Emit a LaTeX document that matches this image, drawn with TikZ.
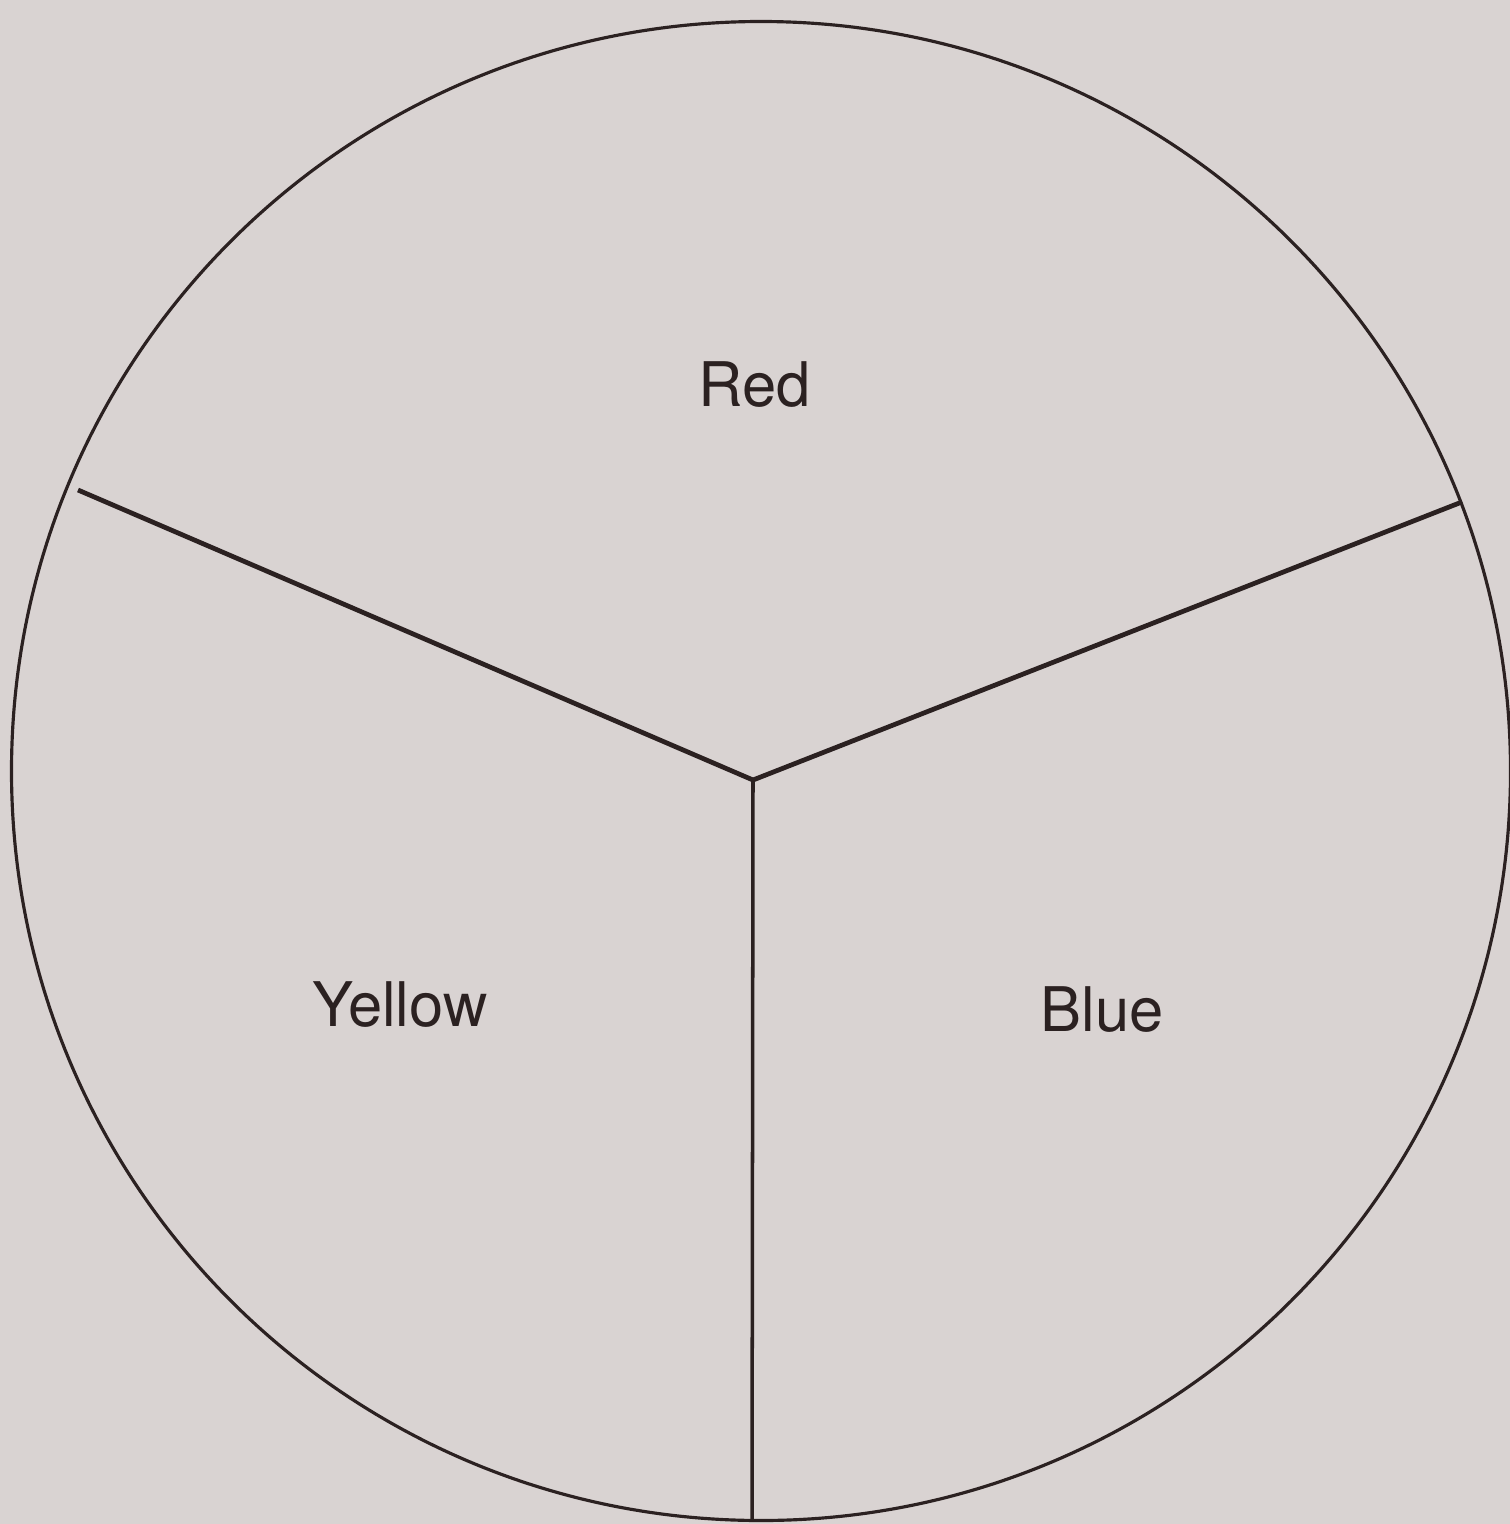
\documentclass[tikz,border=0pt]{standalone}
\usepackage{fontspec}
\setmainfont{TeX Gyre Heros}
\usepackage{tikz}
\usetikzlibrary{
  positioning,
  calc
}
\definecolor{cwPaper}{HTML}{D9D3D2}
\definecolor{cwInk}{HTML}{2B2121}
\tikzset{
  wheel/.style={
    draw=cwInk, circle, line width=0.9pt, minimum size=14.99cm, inner sep=0pt
  },
  spoke/.style={draw=cwInk, line width=1.35pt},
  rim/.style={draw=cwInk, line width=1pt},
  hue/.style={font=\fontsize{17.5}{20}\selectfont, text=cwInk, inner sep=0pt}
}

\begin{document}
\begin{tikzpicture}
  \fill[cwPaper] (0,0) rectangle (15.10,-15.24);
  \useasboundingbox (0,0) rectangle (15.10,-15.24);
  \node[wheel] (disc) at (7.61,-7.71) {};
  \coordinate (hub) at (7.53,-7.80);
  \coordinate (ytop) at (0.78,-4.90);
  \coordinate (btop) at (disc.21.2);
  \coordinate (foot) at (7.52,-15.21);
  \node[hue] (red) at (7.55,-3.85) {Red};
  \node[hue] (yellow) at (4.00,-10.05) {Yellow};
  \node[hue] (blue) at (11.02,-10.10) {Blue};
  \foreach \e in {ytop, btop}{\draw[spoke] (hub) -- (\e);}
  \draw[rim] (hub) -- (foot);
\end{tikzpicture}
\end{document}
